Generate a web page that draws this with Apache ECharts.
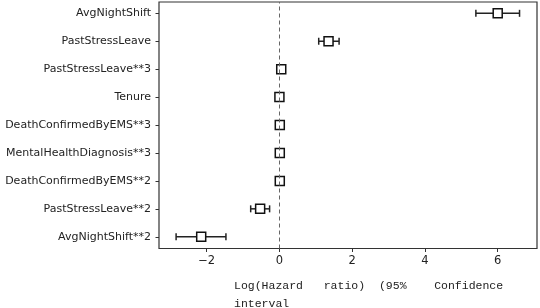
<!DOCTYPE html>
<html>
<head>
<meta charset="utf-8">
<script src="https://cdn.jsdelivr.net/npm/echarts@6/dist/echarts.min.js"></script>
<style>html,body{margin:0;padding:0;background:#fff}#c{width:540px;height:308px}</style>
</head>
<body>
<div id="c"></div>
<script>
// rows from bottom to top
var labels = ['AvgNightShift**2','PastStressLeave**2','DeathConfirmedByEMS**2','MentalHealthDiagnosis**3','DeathConfirmedByEMS**3','Tenure','PastStressLeave**3','PastStressLeave','AvgNightShift'];
var coef  = [-2.15, -0.53, 0.01, 0.01, 0.01, 0.00, 0.05, 1.35, 6.00];
var lower = [-2.84, -0.79, 0.00, 0.00, 0.00, -0.01, 0.03, 1.08, 5.40];
var upper = [-1.47, -0.27, 0.02, 0.02, 0.02, 0.01, 0.07, 1.64, 6.60];
var xTicks = [-2, 0, 2, 4, 6];
var xTitle = 'Log(Hazard   ratio)  (95%    Confidence\ninterval';

var rows = labels.map(function(_, i){ return i; });
var points = coef.map(function(v, i){ return [v, i]; });
var bars = coef.map(function(v, i){ return [lower[i], upper[i], i]; });

var chart = echarts.init(document.getElementById('c'), null, {renderer:'canvas'});
chart.setOption({
  animation: false,
  backgroundColor: '#fff',
  grid: {left: 159, right: 3, top: 2, bottom: 59.5, show: true, borderColor: '#333', borderWidth: 1.2, backgroundColor: 'transparent'},
  xAxis: {
    type: 'value', min: -3.31, max: 7.08,
    splitLine: {show: false},
    axisLine: {show: false, onZero: false},
    axisTick: {show: true, length: 3.5, lineStyle: {color: '#333'}, customValues: xTicks},
    axisLabel: {customValues: xTicks, margin: 7, fontFamily: 'DejaVu Sans', fontSize: 11.5, color: '#222',
      formatter: function(v){ return v < 0 ? '\u2212' + Math.abs(v) : String(v); }}
  },
  yAxis: {
    type: 'value', min: -0.42, max: 8.405,
    splitLine: {show: false},
    axisLine: {show: false, onZero: false},
    axisTick: {show: true, length: 3.5, lineStyle: {color: '#333'}, customValues: rows},
    axisLabel: {customValues: rows, margin: 8, fontFamily: 'DejaVu Sans', fontSize: 11, color: '#222',
      formatter: function(v){ return labels[Math.round(v)]; }}
  },
  graphic: [{
    type: 'text', left: 234, top: 277,
    style: {text: xTitle, fontFamily: 'Liberation Mono', fontSize: 11.5, lineHeight: 18, fill: '#222'}
  }],
  series: [{
    type: 'custom',
    data: bars,
    z: 2,
    renderItem: function(params, api){
      var lo = api.value(0), hi = api.value(1), y = api.value(2);
      var p1 = api.coord([lo, y]), p2 = api.coord([hi, y]);
      var h = 3.5;
      var st = {stroke: '#222', lineWidth: 1.5};
      return {type: 'group', children: [
        {type: 'line', shape: {x1: p1[0], y1: p1[1], x2: p2[0], y2: p2[1]}, style: st},
        {type: 'line', shape: {x1: p1[0], y1: p1[1]-h, x2: p1[0], y2: p1[1]+h}, style: st},
        {type: 'line', shape: {x1: p2[0], y1: p2[1]-h, x2: p2[0], y2: p2[1]+h}, style: st}
      ]};
    }
  }, {
    type: 'scatter',
    data: points,
    z: 3,
    symbol: 'rect',
    symbolSize: 9,
    itemStyle: {color: '#fff', borderColor: '#111', borderWidth: 1.5, opacity: 1},
    markLine: {
      silent: true, symbol: 'none', label: {show: false},
      lineStyle: {color: '#666', type: [4, 3], width: 1},
      data: [{xAxis: 0}]
    }
  }]
});
</script>
</body>
</html>
